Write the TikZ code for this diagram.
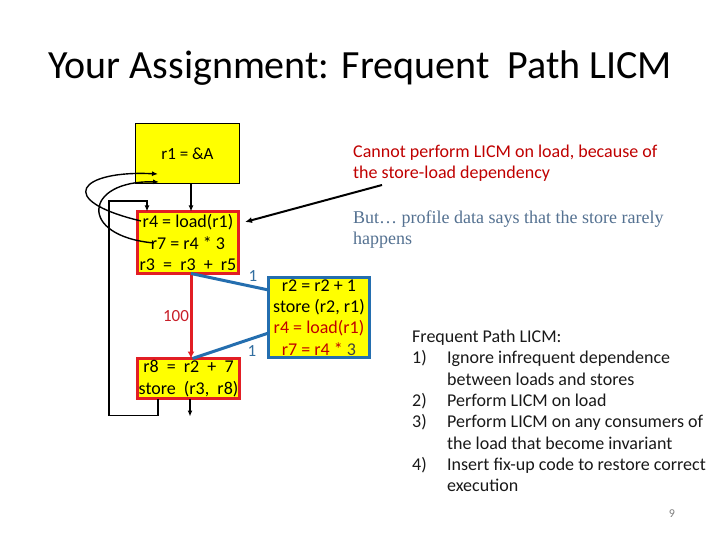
\documentclass[tikz,border=0pt]{standalone}
\usepackage{fontspec}
\setmainfont{Carlito}
\newfontfamily\timesf{Liberation Serif}
\usetikzlibrary{arrows.meta}
\definecolor{boxyellow}{RGB}{255,255,0}
\definecolor{boxred}{RGB}{226,30,36}
\definecolor{boxblue}{RGB}{36,110,175}
\definecolor{lblblue}{RGB}{50,110,160}
\definecolor{licred}{RGB}{192,0,0}
\definecolor{butblue}{RGB}{84,113,145}
\definecolor{hundred}{RGB}{200,30,40}
\begin{document}
\begin{tikzpicture}[x=1pt,y=-1pt,
  ybox/.style={fill=boxyellow, inner sep=0pt, outer sep=0pt, align=center,
    font=\fontsize{18}{21.3}\selectfont},
  blk/.style={draw=black, line width=1.4pt, -{Latex[length=6pt,width=5pt]}},
  redln/.style={draw=boxred, line width=3pt, -{Latex[length=7pt,width=7pt]}},
  blueln/.style={draw=boxblue, line width=3pt},
  lbl/.style={text=lblblue, font=\fontsize{17}{18}\selectfont, inner sep=0pt},
  para/.style={anchor=north west, align=left, inner sep=0pt}
]
\useasboundingbox (0,0) rectangle (720,540);
\fill[white] (0,0) rectangle (720,540);

\node[font=\fontsize{40}{44}\selectfont, inner sep=0pt] (title) at (360,68) {Your Assignment: Frequent\ \ Path LICM};

% boxes
\node[ybox, draw=black, line width=1.3pt, minimum width=104pt, minimum height=60pt, font=\fontsize{17}{20}\selectfont] (r1box) at (187.5,153.5) {r1 = \&A};
\node[ybox, draw=boxred, line width=3pt, minimum width=101pt, minimum height=62pt] (mid) at (188,242.5)
  {r4 = load(r1)\\ r7 = r4 * 3\\ r3\ \ =\ \ r3\ \ +\ \ r5};
\node[ybox, draw=boxblue, line width=3pt, minimum width=101pt, minimum height=80pt] (right) at (319,317.5)
  {r2 = r2 + 1\\ store (r2, r1)\\ \textcolor{licred}{r4 = load(r1)}\\ \textcolor{licred}{r7 = r4 *} \textcolor{darkgray}{3}};
\node[ybox, draw=boxred, line width=3pt, minimum width=102pt, minimum height=40pt] (bot) at (188.5,378.5)
  {r8\ \ =\ \ r2\ \ +\ \ 7\\ store\ \ (r3,\ \ r8)};

% control flow
\draw[blk] ([xshift=3.5pt]r1box.south) -- ([xshift=3.5pt]r1box.south |- mid.north);
\draw[redln] ([xshift=3pt]mid.south) -- ([xshift=3pt]mid.south |- bot.north);
\node[text=hundred, font=\fontsize{17}{18}\selectfont, inner sep=0pt] (lbl100) at (176,316) {100};
\draw[blueln] ([xshift=3pt]mid.south) -- ([yshift=27.5pt]right.west);
\draw[blueln] ([yshift=-15.5pt]right.west) -- ([xshift=4pt]bot.north);
\node[lbl] (lblone1) at (253,276) {1};
\node[lbl] (lblone2) at (252,351) {1};
\draw[blk] ([xshift=-30.5pt]bot.south) -- ++(0,17) -| (109,201) -| ([xshift=-41pt]mid.north);
\draw[blk] ([xshift=1.5pt]bot.south) -- ++(0,18) coordinate (exitend);

% dependence curves
\coordinate (r4src) at (141,221);
\coordinate (r7src) at (154,243);
\coordinate (r1inA) at (158,174);
\coordinate (r1inB) at (159,182);
\draw[blk] (r4src) .. controls (53,200) and (80,170) .. (r1inA);
\draw[blk] (r7src) .. controls (77,236) and (84,180) .. (r1inB);

% annotation pointer
\coordinate (ptrstart) at (382,185);
\draw[draw=black, line width=2pt, -{Latex[length=7pt,width=6pt]}] (ptrstart) -- ([xshift=6.5pt,yshift=20.5pt]mid.east);

% texts
\node[para, text=licred, font=\fontsize{18}{21}\selectfont] (cannot) at (353,145)
  {Cannot perform LICM on load, because of\\ the store-load dependency};
\node[para, text=butblue, font=\timesf\fontsize{18}{21}\selectfont] (butnote) at (353,210.5)
  {But\ldots\ profile data says that the store rarely\\ happens};
\node[para, font=\fontsize{18}{21.3}\selectfont, text={black!90}] (steps) at (412,327.5)
  {\begin{tabular}{@{}p{35pt}@{}l@{}}
   \multicolumn{2}{@{}l@{}}{Frequent Path LICM:}\\
   1) & Ignore infrequent dependence\\
      & between loads and stores\\
   2) & Perform LICM on load\\
   3) & Perform LICM on any consumers of\\
      & the load that become invariant\\
   4) & Insert fix-up code to restore correct\\
      & execution
   \end{tabular}};
\node[text=gray, font=\fontsize{12}{14}\selectfont, inner sep=0pt] (pnum) at (672,514) {9};
\end{tikzpicture}
\end{document}
